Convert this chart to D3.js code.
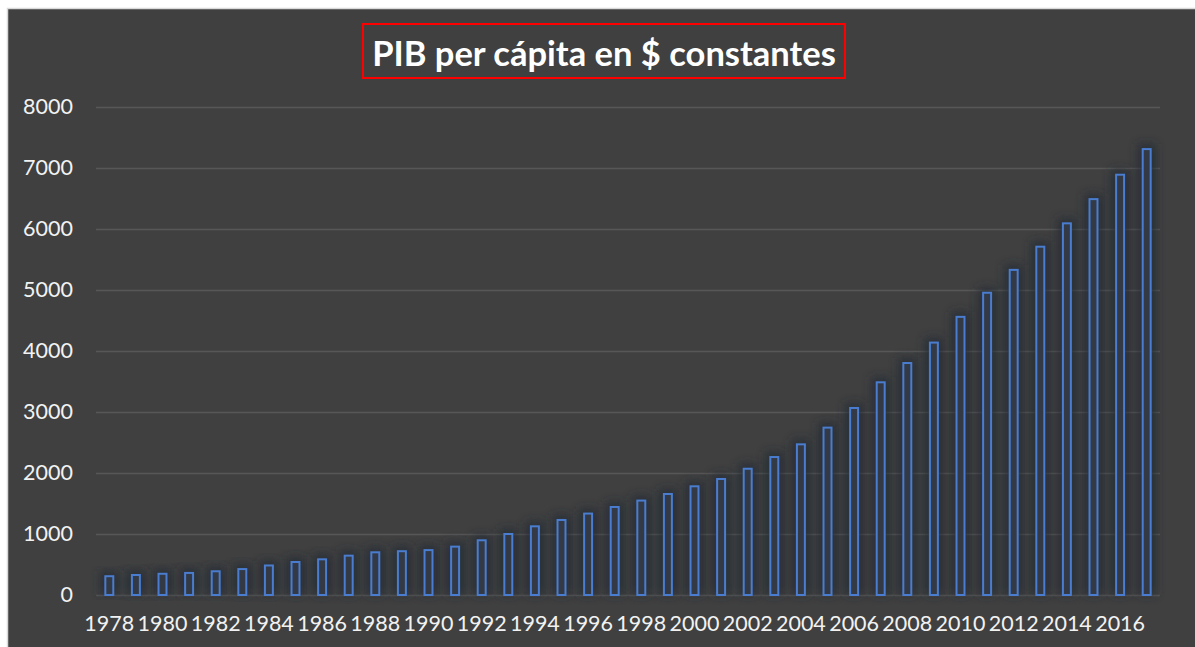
<!DOCTYPE html>
<html>
<head>
<meta charset="utf-8">
<script src="https://cdn.jsdelivr.net/npm/d3@7"></script>
<style>
  html, body { margin: 0; padding: 0; background: #ffffff; }
  svg { display: block; }
</style>
</head>
<body>
<div id="chart"></div>
<script>
// Data
const years = [1978, 1979, 1980, 1981, 1982, 1983, 1984, 1985, 1986, 1987,
               1988, 1989, 1990, 1991, 1992, 1993, 1994, 1995, 1996, 1997,
               1998, 1999, 2000, 2001, 2002, 2003, 2004, 2005, 2006, 2007,
               2008, 2009, 2010, 2011, 2012, 2013, 2014, 2015, 2016, 2017];
const gdpPerCapita = [308, 328, 348, 362, 389, 425, 484, 541, 585, 645,
                      700, 718, 736, 793, 897, 1000, 1126, 1230, 1335, 1443,
                      1548, 1656, 1782, 1902, 2070, 2262, 2470, 2744, 3066, 3487,
                      3803, 4138, 4560, 4955, 5330, 5710, 6093, 6490, 6890, 7310];
const yTicks = [0, 1000, 2000, 3000, 4000, 5000, 6000, 7000, 8000];
const xTickLabels = years.filter((d, i) => i % 2 === 0);
const chartTitle = "PIB per cápita en $ constantes";

document.addEventListener("DOMContentLoaded", function () {
  const W = 1195, H = 647;
  const margin = { top: 107, right: 35, bottom: 52, left: 96 };
  const width = W - margin.left - margin.right,
        height = H - margin.top - margin.bottom;
  const font = "Lato, 'Open Sans', sans-serif";

  const svg = d3.select("#chart").append("svg")
    .attr("width", W)
    .attr("height", H);

  // Frame (dark chart area with light border)
  svg.append("rect")
    .attr("x", 7.5).attr("y", 8.5)
    .attr("width", W).attr("height", H)
    .attr("fill", "#404040")
    .attr("stroke", "#d9d9d9")
    .attr("stroke-width", 1.5);

  // Glow filter for bars
  const defs = svg.append("defs");
  defs.append("filter")
    .attr("id", "glow")
    .attr("x", "-200%").attr("y", "-20%")
    .attr("width", "500%").attr("height", "140%")
    .append("feGaussianBlur")
    .attr("stdDeviation", 5);

  const g = svg.append("g")
    .attr("transform", `translate(${margin.left},${margin.top})`);

  const x = d3.scaleBand()
    .domain(years)
    .range([0, width])
    .paddingInner(0.7)
    .paddingOuter(0.35);

  const y = d3.scaleLinear()
    .domain([0, 8000])
    .range([height, 0]);

  // Gridlines
  g.append("g")
    .attr("class", "grid")
    .call(d3.axisLeft(y).tickValues(yTicks).tickSize(-width).tickFormat(""))
    .call(s => s.select(".domain").remove())
    .call(s => s.selectAll("line")
      .attr("stroke", "#575757")
      .attr("stroke-width", 1.5));

  // Y labels
  g.append("g")
    .call(d3.axisLeft(y).tickValues(yTicks).tickSize(0).tickPadding(23).tickFormat(d3.format("d")))
    .call(s => s.select(".domain").remove())
    .call(s => s.selectAll("text")
      .attr("fill", "#f2f2f2")
      .style("font-family", font)
      .style("font-size", "21.5px"));

  // Bar glow
  g.selectAll(".glow")
    .data(years)
    .join("rect")
    .attr("class", "glow")
    .attr("x", (d) => x(d) - 5)
    .attr("y", (d, i) => y(gdpPerCapita[i]) - 5)
    .attr("width", x.bandwidth() + 10)
    .attr("height", (d, i) => height - y(gdpPerCapita[i]) + 5)
    .attr("fill", "#232b36")
    .attr("opacity", 0.8)
    .attr("filter", "url(#glow)");

  // Bars
  g.selectAll(".bar")
    .data(years)
    .join("rect")
    .attr("class", "bar")
    .attr("x", (d) => x(d))
    .attr("y", (d, i) => y(gdpPerCapita[i]))
    .attr("width", x.bandwidth())
    .attr("height", (d, i) => height - y(gdpPerCapita[i]))
    .attr("fill", "#333a45")
    .attr("stroke", "#4a7dd0")
    .attr("stroke-width", 2);

  // X labels
  g.append("g")
    .attr("transform", `translate(0,${height})`)
    .call(d3.axisBottom(x).tickValues(xTickLabels).tickSize(0).tickPadding(21))
    .call(s => s.select(".domain").remove())
    .call(s => s.selectAll("text")
      .attr("fill", "#f2f2f2")
      .style("font-family", font)
      .style("font-size", "21.5px"));

  // Title with red box
  svg.append("text")
    .attr("x", 604)
    .attr("y", 52)
    .attr("text-anchor", "middle")
    .attr("dominant-baseline", "central")
    .attr("fill", "#ffffff")
    .style("font-family", font)
    .style("font-weight", "bold")
    .style("font-size", "34.5px")
    .text(chartTitle);

  svg.append("rect")
    .attr("x", 363).attr("y", 24)
    .attr("width", 482).attr("height", 54)
    .attr("fill", "none")
    .attr("stroke", "#ff0000")
    .attr("stroke-width", 2);
});
</script>
</body>
</html>
